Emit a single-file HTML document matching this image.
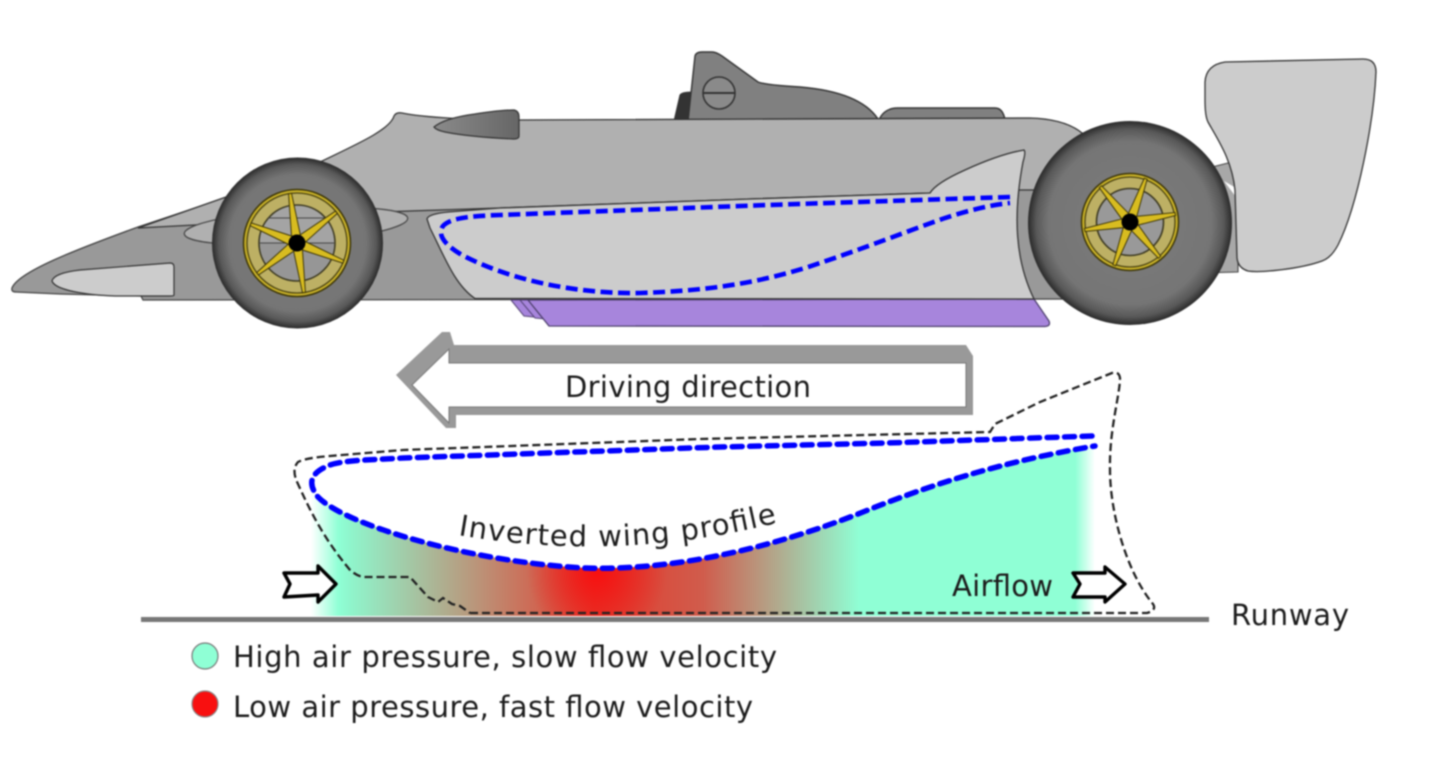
<!DOCTYPE html>
<html><head><meta charset="utf-8"><title>Ground effect diagram</title>
<style>html,body{margin:0;padding:0;background:#fff;width:1440px;height:771px;overflow:hidden}svg{display:block;filter:blur(.7px)}text{font-family:"DejaVu Sans","Liberation Sans",sans-serif;fill:#1c1c1c}</style></head>
<body>
<svg width="1440" height="771" viewBox="0 0 1440 771" xmlns="http://www.w3.org/2000/svg">
<defs>
<radialGradient id="tyre"><stop offset="0" stop-color="#7c7c7c"/><stop offset=".8" stop-color="#757575"/><stop offset=".92" stop-color="#585858"/><stop offset="1" stop-color="#2a2a2a"/></radialGradient>
<linearGradient id="mir" x1="0" x2="1" y1="0" y2="0"><stop offset="0" stop-color="#8a8a8a"/><stop offset="1" stop-color="#666"/></linearGradient>
<linearGradient id="flow" gradientUnits="userSpaceOnUse" x1="311" x2="1095" y1="0" y2="0">
<stop offset="0" stop-color="#fff"/><stop offset=".035" stop-color="#8fffd5"/><stop offset=".05" stop-color="#8ff5cc"/>
<stop offset=".362" stop-color="#e33a2c"/><stop offset=".5" stop-color="#d05c4c"/><stop offset=".7" stop-color="#8fffd5"/>
<stop offset=".975" stop-color="#8fffd5"/><stop offset="1" stop-color="#fff"/></linearGradient>
<radialGradient id="red" gradientUnits="userSpaceOnUse" cx="597" cy="572" r="70"><stop offset="0" stop-color="#f81010"/><stop offset="1" stop-color="#f01010" stop-opacity="0"/></radialGradient>
</defs>

<!-- back of cockpit -->
<path d="M674,121 L680,95 Q682,92 692,92 L690,121Z" fill="#333" stroke="#333"/>
<path d="M688,121 L695,56 Q696,52 702,52 L712,52 Q716,52 722,56 L758,82 Q765,85 800,87 Q860,92 878,119 L878,121Z" fill="#808080" stroke="#333" stroke-width="1.4"/>
<circle cx="719" cy="93" r="16" fill="#8a8a8a" stroke="#333" stroke-width="1.6"/><path d="M703,93H735" stroke="#333" stroke-width="2"/>
<path d="M879,120 Q884,108 898,108 L995,108 Q1003,108 1005,120Z" fill="#808080" stroke="#333" stroke-width="1.4"/>

<!-- rear strut -->
<path d="M1212,167 L1232,162 L1238,195 L1238,272 L1200,273 L1180,190Z" fill="#a8a8a8" stroke="#444" stroke-width="1.1"/>
<path d="M1224,181 L1236,188 L1236,197Z" fill="#fff"/>

<!-- lower body -->
<path d="M12,288 C18,272 75,250 138,227 L225,198 L400,200 L1020,185 L1075,185 L1075,299 L143,300 L141,296 L60,294 L16,292 Q11,292 12,288Z" fill="#999" stroke="#444" stroke-width="1.3"/>
<!-- upper body -->
<path d="M138,228 L226,197 L320,162 C355,145 390,130 394,116 Q396,112 402,113 C420,117 480,121 520,120 L1030,118 Q1065,119 1082,133 L1090,190 L1018,190 L930,193 L750,199 L500,208 L380,212 L290,217 L214,224 Z" fill="#b0b0b0" stroke="#333" stroke-width="1.3"/>
<ellipse cx="296" cy="226" rx="112" ry="17" transform="rotate(-4 296 226)" fill="#b0b0b0" stroke="#444" stroke-width="1.2"/>

<!-- purple skirts -->
<path d="M511,300 L524,316 L534,317 L527,300Z" fill="#a785dc" stroke="#554477"/>
<path d="M520,300 L535,318 L546,319 L530,300Z" fill="#a785dc" stroke="#554477"/>
<path d="M528,300 L549,326 L1045,326.5 Q1051,326 1049,321 L1034,299Z" fill="#a785dc" stroke="#4c3f6b" stroke-width="1.3"/>

<!-- side pod -->
<path d="M427,219 Q428,214 448,212 L500,208 L750,199 L930,193 Q936,183 965,170 Q1000,154 1024,150 Q1026,152 1023,162 C1013,215 1015,260 1034,299 L475,298.5 C455,285 445,258 430,228 Z" fill="#ccc" stroke="#333" stroke-width="1.3"/>
<path d="M1010,197 L768,205 L500,215 C470,216 450,218 443,226 C436,236 448,247 462,255 C510,280 575,294 640,293 C700,291 750,285 805,268 C860,250 905,232 945,218 C970,210 990,205 1010,203" fill="none" stroke="#00f" stroke-width="4.6" stroke-dasharray="12 5.5"/>

<!-- nose scoop -->
<path d="M52,281 Q54,273 80,270 L170,263 Q174,263 174,267 L174,295 Q174,296 170,296 L115,296 C85,295 55,290 52,281Z" fill="#ccc" stroke="#333" stroke-width="1.2"/>
<!-- mirror -->
<path d="M434,127 Q445,118 475,114 Q500,110 514,110 Q519,111 519,117 L519,136 Q519,139 514,139 Q470,137 445,132 Q436,130 434,127Z" fill="url(#mir)" stroke="#333" stroke-width="1.2"/>

<!-- rear wing -->
<path d="M1205,82 Q1206,65 1225,62 L1363,59 Q1376,59 1376,72 C1374,120 1358,205 1338,245 Q1331,258 1322,261 C1300,269 1260,273 1248,271 Q1238,268 1237,258 L1235,190 C1232,160 1218,140 1208,122 Q1205,116 1205,100Z" fill="#ccc" stroke="#333" stroke-width="1.3"/>

<!-- front wheel -->
<circle cx="297.5" cy="243" r="85.5" fill="url(#tyre)"/>
<circle cx="297" cy="243" r="53.5" fill="#c9b22a" stroke="#3d3608" stroke-width="1.5"/>
<circle cx="297" cy="243" r="50" fill="#bdb064" stroke="#4a4210" stroke-width="1.3"/>
<circle cx="297" cy="243" r="38" fill="#a4a4a4" stroke="#3d3a22" stroke-width="1.6"/>
<path d="M260,243H334A37,37 0 0 1 260,243Z" fill="#969696"/>
<path d="M260,243H334M268,218H326" stroke="#444" stroke-width="1"/>
<g fill="#d8bc20" stroke="#3d3608" stroke-width="1" transform="translate(297 243)">
<path transform="rotate(-8)" d="M-1.5,-50 L1.5,-50 L5,0 L-5,0Z"/>
<path transform="rotate(52)" d="M-1.5,-50 L1.5,-50 L5,0 L-5,0Z"/>
<path transform="rotate(112)" d="M-1.5,-50 L1.5,-50 L5,0 L-5,0Z"/>
<path transform="rotate(172)" d="M-1.5,-50 L1.5,-50 L5,0 L-5,0Z"/>
<path transform="rotate(232)" d="M-1.5,-50 L1.5,-50 L5,0 L-5,0Z"/>
<path transform="rotate(292)" d="M-1.5,-50 L1.5,-50 L5,0 L-5,0Z"/></g>
<circle cx="297" cy="243" r="8.5" fill="#000"/>

<!-- rear wheel -->
<circle cx="1130" cy="223" r="102" fill="url(#tyre)"/>
<circle cx="1130" cy="222" r="48.5" fill="#c9b22a" stroke="#3d3608" stroke-width="1.5"/>
<circle cx="1130" cy="222" r="45" fill="#bdb064" stroke="#4a4210" stroke-width="1.3"/>
<circle cx="1130" cy="222" r="33.5" fill="#999" stroke="#3d3a22" stroke-width="1.6"/>
<g fill="#d8bc20" stroke="#3d3608" stroke-width="1" transform="translate(1130 222)">
<path transform="rotate(20)" d="M-1.5,-46 L1.5,-46 L5,0 L-5,0Z"/>
<path transform="rotate(80)" d="M-1.5,-46 L1.5,-46 L5,0 L-5,0Z"/>
<path transform="rotate(140)" d="M-1.5,-46 L1.5,-46 L5,0 L-5,0Z"/>
<path transform="rotate(200)" d="M-1.5,-46 L1.5,-46 L5,0 L-5,0Z"/>
<path transform="rotate(260)" d="M-1.5,-46 L1.5,-46 L5,0 L-5,0Z"/>
<path transform="rotate(320)" d="M-1.5,-46 L1.5,-46 L5,0 L-5,0Z"/></g>
<circle cx="1130" cy="222" r="8.5" fill="#000"/>

<!-- driving direction arrow -->
<path d="M396,375 L442,332 L450,332 L454,345 L966,345 L973,356 L973,415 L456,415 L456,428 L446,428Z" fill="#999"/>
<path d="M412,385 L449,349 L449,363 L966,363 L966,407 L449,407 L449,423Z" fill="#fff" stroke="#777" stroke-width="1"/>
<text x="565" y="397" font-size="29" textLength="246" lengthAdjust="spacing">Driving direction</text>

<!-- airflow fill -->
<path d="M311,490 C340,525 470,562 585,568 C680,571 780,545 863,512 C930,485 1000,462 1095,446 L1095,616 L311,616Z" fill="url(#flow)"/>
<path d="M311,490 C340,525 470,562 585,568 C680,571 780,545 863,512 L863,616 L311,616Z" fill="url(#red)"/>

<!-- black dashed outline -->
<path d="M470,613 L1147,613 Q1157,610 1153,604 C1125,570 1110,510 1110,470 C1109,430 1120,395 1120,378 Q1119,371 1112,373 L1040,402 L995,424 L990,432 L700,439 L403,450 L330,456 Q305,458 298,462 Q291,470 298,484 C312,515 325,540 350,570 Q358,577 365,577 L410,577 L428,597 L438,602 L443,598 L452,604 L460,606 L470,613" fill="none" stroke="#222" stroke-width="2.3" stroke-dasharray="8 4"/>
<!-- blue profile -->
<path d="M1092,436 L887,443 L720,447 L403,458 C370,460 345,460 330,465 C312,472 306,482 318,497 C345,525 470,562 585,568 C680,571 780,545 863,512 C930,485 1000,462 1095,446" fill="none" stroke="#00f" stroke-width="5.5" stroke-dasharray="10 7.5" stroke-linecap="round"/>

<!-- ground -->
<path d="M141,619.5H1209" stroke="#777" stroke-width="5"/>

<!-- small arrows -->
<path d="M284,573 L318,573 L318,566 L336,584 L318,602 L318,595 L284,597 L290,584Z" fill="#fff" stroke="#000" stroke-width="3.4" stroke-linejoin="round"/>
<path d="M1073,573 L1105,573 L1105,567 L1125,584 L1105,602 L1105,597 L1073,597 L1080,584Z" fill="#fff" stroke="#000" stroke-width="3.4" stroke-linejoin="round"/>

<!-- labels -->
<path id="lab" d="M458,535 Q620,563 780,522" fill="none"/>
<text font-size="29"><textPath href="#lab" textLength="322" lengthAdjust="spacing">Inverted wing profile</textPath></text>
<text x="952" y="596" font-size="29" textLength="101" lengthAdjust="spacing">Airflow</text>
<text x="1231" y="625" font-size="29" textLength="118" lengthAdjust="spacing">Runway</text>
<circle cx="205" cy="656" r="13" fill="#8fffd5" stroke="#777" stroke-width="1.2"/>
<circle cx="205" cy="704" r="13" fill="#f81010" stroke="#888" stroke-width="1.2"/>
<text x="233" y="667" font-size="29" textLength="544" lengthAdjust="spacing">High air pressure, slow flow velocity</text>
<text x="233" y="717" font-size="29" textLength="520" lengthAdjust="spacing">Low air pressure, fast flow velocity</text>
</svg>
</body></html>
